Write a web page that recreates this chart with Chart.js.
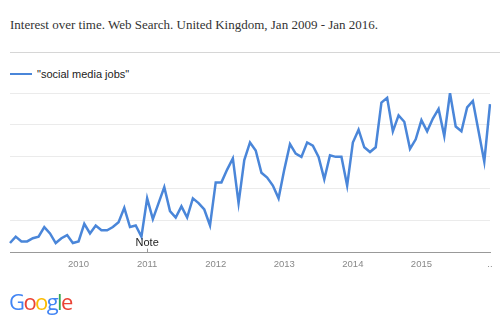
<!DOCTYPE html>
<html>
<head>
<meta charset="utf-8">
<script src="https://cdn.jsdelivr.net/npm/chart.js@4/dist/chart.umd.min.js"></script>
<style>
  html, body { margin: 0; padding: 0; background: #fff; }
  #wrap { position: relative; width: 500px; height: 330px; overflow: hidden; }
  #title { position: absolute; left: 10px; top: 17px; font-family: "Liberation Serif", "Times New Roman", serif; font-size: 13px; color: #333; white-space: nowrap; }
  #sep { position: absolute; left: 10px; top: 52px; width: 490px; height: 1px; background: #d6d6d6; }
  #legend { position: absolute; left: 10px; top: 68px; font-family: "Liberation Sans", Arial, sans-serif; font-size: 11px; color: #222; white-space: nowrap; }
  #legend .sw { display: inline-block; width: 22px; height: 2px; background: #4a86d9; vertical-align: middle; margin-right: 5px; position: relative; top: -1px; }
  #logo { position: absolute; left: 9px; top: 286px; font-family: "Open Sans", Roboto, sans-serif; font-size: 22px; letter-spacing: -1.6px; white-space: nowrap; }
  canvas { position: absolute; left: 0; top: 0; }
</style>
</head>
<body>
<div id="wrap">
  <div id="title">Interest over time. Web Search. United Kingdom, Jan 2009 - Jan 2016.</div>
  <div id="sep"></div>
  <div id="legend"><span class="sw"></span>"social media jobs"</div>
  <canvas id="c" width="500" height="330"></canvas>
  <div id="logo"><span style="color:#4285F4">G</span><span style="color:#EA4335">o</span><span style="color:#FBBC05">o</span><span style="color:#4285F4">g</span><span style="color:#34A853">l</span><span style="color:#EA4335">e</span></div>
</div>
<script>
const years = [2009, 2010, 2011, 2012, 2013, 2014, 2015];
const categories = [];
years.forEach(y => { for (let m = 1; m <= 12; m++) categories.push(y + '-' + String(m).padStart(2, '0')); });
categories.push('2016-01');

const interest = [
  6, 10, 7, 7, 9, 10, 16, 12, 6, 9, 11, 6,
  7, 18, 12, 17, 14, 14, 16, 19, 28, 16, 17, 10,
  34, 21, 31, 41, 26, 22, 29, 22, 34, 31, 27, 17,
  44, 44, 52, 59, 31, 58, 69, 64, 50, 47, 42, 34,
  52, 68, 62, 60, 69, 67, 60, 46, 61, 60, 60, 42,
  69, 77, 66, 63, 66, 94, 97, 76, 86, 82, 65, 71,
  83, 76, 84, 90, 73, 100, 79, 76, 91, 95, 76, 57,
  93
];

const yearTickLabels = { '2010-01': '2010', '2011-01': '2011', '2012-01': '2012', '2013-01': '2013', '2014-01': '2014', '2015-01': '2015', '2016-01': '..' };
const yTicks = [0, 20, 40, 60, 80, 100];
const noteAt = '2011-01';
const noteText = 'Note';

const notePlugin = {
  id: 'note',
  afterDatasetsDraw(chart) {
    const x = chart.scales.x.getPixelForValue(categories.indexOf(noteAt));
    const yb = chart.scales.y.getPixelForValue(0);
    const ctx = chart.ctx;
    ctx.save();
    ctx.strokeStyle = '#999';
    ctx.lineWidth = 1;
    ctx.beginPath();
    ctx.moveTo(Math.round(x) + 0.5, yb);
    ctx.lineTo(Math.round(x) + 0.5, yb - 4);
    ctx.stroke();
    ctx.fillStyle = '#222';
    ctx.font = '11px "Liberation Sans", Arial, sans-serif';
    ctx.textAlign = 'center';
    ctx.textBaseline = 'alphabetic';
    ctx.fillText(noteText, x, yb - 7);
    ctx.restore();
  }
};

new Chart(document.getElementById('c'), {
  type: 'line',
  data: {
    labels: categories,
    datasets: [{
      label: '"social media jobs"',
      data: interest,
      borderColor: '#4a86d9',
      borderWidth: 2.5,
      pointRadius: 0,
      tension: 0,
      fill: false
    }]
  },
  options: {
    responsive: false,
    animation: false,
    layout: { padding: { left: 10, right: 10, top: 93, bottom: 54 } },
    plugins: { legend: { display: false }, tooltip: { enabled: false } },
    scales: {
      x: {
        offset: false,
        grid: { display: false, drawTicks: false },
        border: { display: true, color: '#999', width: 1 },
        ticks: {
          autoSkip: false, maxRotation: 0, minRotation: 0, padding: 6,
          color: '#888',
          font: { family: '"Liberation Sans", Arial, sans-serif', size: 9.5 },
          callback: (v, i) => yearTickLabels[categories[i]] || ''
        }
      },
      y: {
        min: 0, max: 100,
        afterBuildTicks: s => { s.ticks = yTicks.map(v => ({ value: v })); },
        ticks: { display: false },
        grid: { drawTicks: false, color: c => c.tick && c.tick.value === 0 ? 'rgba(0,0,0,0)' : '#ebebeb' },
        border: { display: false }
      }
    }
  },
  plugins: [notePlugin]
});
</script>
</body>
</html>
